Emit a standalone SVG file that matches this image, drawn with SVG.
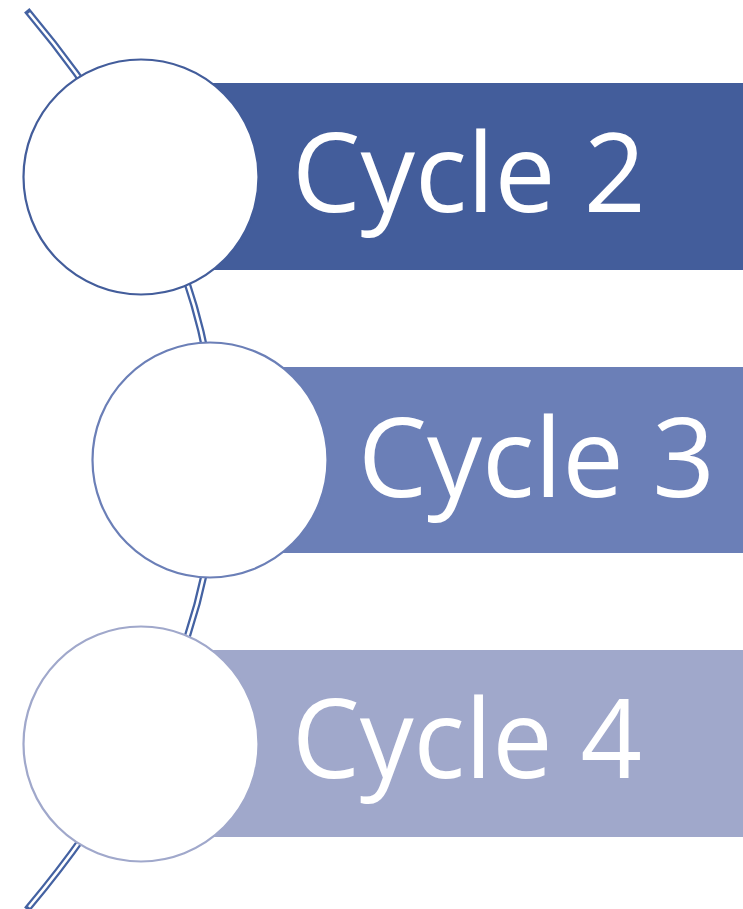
<svg xmlns="http://www.w3.org/2000/svg" width="743" height="909" viewBox="0 0 743 909">
<style>
.lbl{font-family:"Open Sans","Liberation Sans",Arial,sans-serif;font-size:110px;fill:#ffffff}
.node circle{fill:#ffffff;stroke-width:2.2}
</style>
<rect width="743" height="909" fill="#ffffff"/>
<g id="connectors">
<path d="M29,13 Q404,460 29,907" fill="none" stroke="#4462A2" stroke-width="7" stroke-linecap="square"/>
<path d="M29,13 Q404,460 29,907" fill="none" stroke="#ffffff" stroke-width="2.6"/>
</g>
<g id="node1" class="node">
<rect x="141" y="83" width="602" height="187" fill="#435D9B"/>
<circle cx="141" cy="177" r="117.5" stroke="#435D9B"/>
<text class="lbl" x="292" y="212" textLength="354" lengthAdjust="spacingAndGlyphs">Cycle 2</text>
</g>
<g id="node2" class="node">
<rect x="210" y="367" width="533" height="186" fill="#6B7FB7"/>
<circle cx="210" cy="460" r="117.5" stroke="#6B7FB7"/>
<text class="lbl" x="358" y="497" textLength="357" lengthAdjust="spacingAndGlyphs">Cycle 3</text>
</g>
<g id="node3" class="node">
<rect x="141" y="650" width="602" height="187" fill="#A0A8CB"/>
<circle cx="141" cy="744" r="117.5" stroke="#A0A8CB"/>
<text class="lbl" x="292" y="778" textLength="350" lengthAdjust="spacingAndGlyphs">Cycle 4</text>
</g>
</svg>
